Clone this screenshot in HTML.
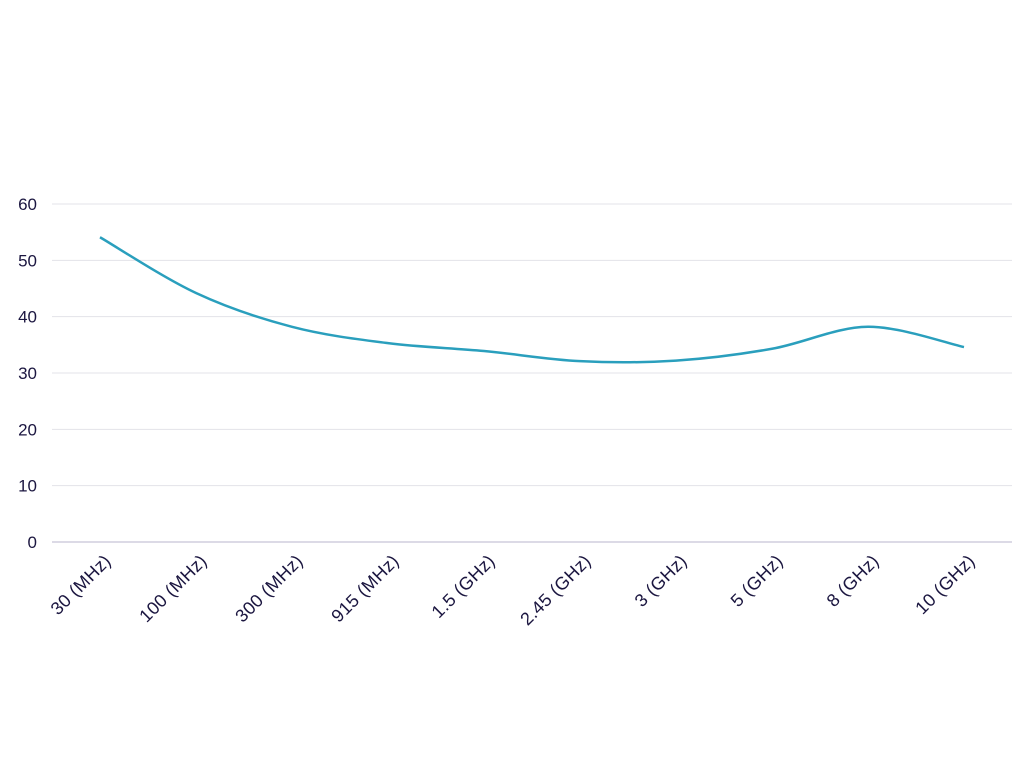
<!DOCTYPE html>
<html><head><meta charset="utf-8"><style>
html,body{margin:0;padding:0;background:#fff;width:1024px;height:768px;overflow:hidden}
svg text{font-family:"Liberation Sans",sans-serif;fill:#1b1640;font-size:17px}
svg text.xl{font-size:18px;letter-spacing:0.3px}
</style></head><body>
<svg id="chart" width="1024" height="768" xmlns="http://www.w3.org/2000/svg"></svg>
<script>
const categories=["30 (MHz)","100 (MHz)","300 (MHz)","915 (MHz)","1.5 (GHz)","2.45 (GHz)","3 (GHz)","5 (GHz)","8 (GHz)","10 (GHz)"];
const values=[54.1,44.2,38.2,35.3,33.9,32.1,32.2,34.3,38.2,34.6];
const yTicks=[0,10,20,30,40,50,60];
const svg=document.getElementById('chart');
const NS='http://www.w3.org/2000/svg';
const x0=52,x1=1012,yb=542,yt=204,yMax=60;
const band=(x1-x0)/categories.length;
const xs=i=>x0+band*i+band/2;
const ys=v=>yb-(v/yMax)*(yb-yt);
function el(t,a){const e=document.createElementNS(NS,t);for(const k in a)e.setAttribute(k,a[k]);svg.appendChild(e);return e;}
yTicks.forEach(t=>{
  const g=el('line',{x1:x0,x2:x1,y1:ys(t),y2:ys(t),stroke:t===0?'#b8b4cc':'#e3e3e8','stroke-width':1});
  
  
  const l=el('text',{x:37,y:ys(t)+6,'text-anchor':'end'});
  l.textContent=t;
  
  
});
categories.forEach((c,i)=>{
  const x=xs(i)+12,y=562;
  const l=el('text',{x:x,y:y,'text-anchor':'end','class':'xl',transform:`rotate(-45 ${x} ${y})`});
  l.textContent=c;
  
  
});
// catmull-rom smooth path
const P=values.map((v,i)=>[xs(i),ys(v)]);
const n=P.length;
let p=`M${P[0][0]},${P[0][1]}`;
for(let i=0;i<n-1;i++){
  const a=P[Math.max(0,i-1)],b=P[i],c=P[i+1],d=P[Math.min(n-1,i+2)];
  const c1=[b[0]+(c[0]-a[0])/6,b[1]+(c[1]-a[1])/6];
  const c2=[c[0]-(d[0]-b[0])/6,c[1]-(d[1]-b[1])/6];
  p+=` C${c1[0]},${c1[1]} ${c2[0]},${c2[1]} ${c[0]},${c[1]}`;
}
const line=el('path',{d:p,fill:'none',stroke:'#2a9fbd','stroke-width':2.5});


</script>
</body></html>
